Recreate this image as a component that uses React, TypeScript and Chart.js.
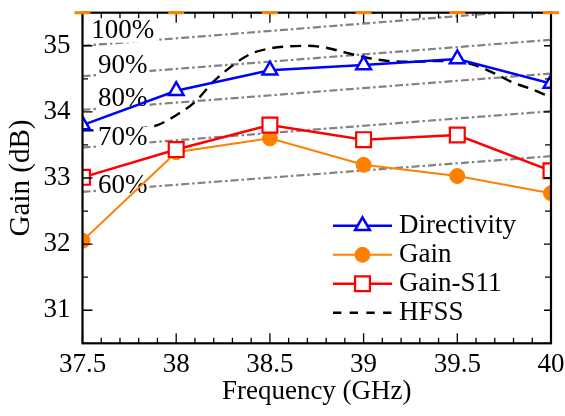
import React, { useEffect, useRef } from 'react';
import { Chart, registerables } from 'chart.js';

Chart.register(...registerables);

// ---- data ----
const freqs = [37.5, 38, 38.5, 39, 39.5, 40];
const directivity = [33.8, 34.32, 34.63, 34.71, 34.8, 34.43];
const gain = [32.05, 33.39, 33.6, 33.2, 33.03, 32.77];
const gainS11 = [33.01, 33.43, 33.8, 33.58, 33.65, 33.11];

const hfssFreqs = [37.5, 37.6, 37.7, 37.8, 37.9, 38.0, 38.1, 38.2, 38.3, 38.4, 38.5, 38.6, 38.7,
  38.8, 38.9, 39.0, 39.1, 39.2, 39.3, 39.4, 39.5, 39.6, 39.7, 39.8, 39.9, 40.0];
const hfss = [33.72, 33.72, 33.73, 33.75, 33.8, 33.95, 34.15, 34.46, 34.7, 34.88, 34.96, 34.99, 35.0,
  34.97, 34.9, 34.83, 34.78, 34.76, 34.76, 34.77, 34.77, 34.7, 34.58, 34.44, 34.34, 34.22];

// constant-efficiency reference lines (dB at 37.5 GHz and at 40 GHz)
const effLabels = ['100%', '90%', '80%', '70%', '60%'];
const effFreqs = [37.5, 40];
const effStart = [35.0, 34.54, 34.03, 33.46, 32.79];
const effEnd = [35.56, 35.09, 34.58, 34.01, 33.33];
const effLabelFreq = 37.715;
const effLabelGain = [35.22, 34.7, 34.19, 33.6, 32.88];

const xTicks = [37.5, 38, 38.5, 39, 39.5, 40];
const xTickLabels = ['37.5', '38', '38.5', '39', '39.5', '40'];
const xMinorTicks = [37.6, 37.7, 37.8, 37.9, 38.1, 38.2, 38.3, 38.4, 38.6, 38.7, 38.8, 38.9,
  39.1, 39.2, 39.3, 39.4, 39.6, 39.7, 39.8, 39.9];
const yTicks = [31, 32, 33, 34, 35];
const yTickLabels = ['31', '32', '33', '34', '35'];
const yMinorTicks = [30.5, 31.5, 32.5, 33.5, 34.5];

const seriesNames = ['Directivity', 'Gain', 'Gain-S11', 'HFSS'];

const BLUE = '#0000ff';
const ORANGE = '#ff8000';
const RED = '#ff0000';
const GRAY = '#828282';
const FONT = '"Liberation Serif", "Times New Roman", serif';
const FS = 27;

function drawMarker(ctx: CanvasRenderingContext2D, style: string, x: number, y: number, r: number,
  fill: string, stroke: string, lw: number) {
  ctx.save();
  ctx.beginPath();
  if (style === 'triangle') {
    for (let k = 0; k < 3; k++) {
      const a = (k * 2 * Math.PI) / 3;
      const px = x + Math.sin(a) * r;
      const py = y - Math.cos(a) * r;
      if (k === 0) ctx.moveTo(px, py); else ctx.lineTo(px, py);
    }
    ctx.closePath();
  } else if (style === 'rect') {
    const s = Math.SQRT1_2 * r;
    ctx.rect(x - s, y - s, 2 * s, 2 * s);
  } else {
    ctx.arc(x, y, r, 0, Math.PI * 2);
  }
  ctx.fillStyle = fill;
  ctx.fill();
  ctx.lineWidth = lw;
  ctx.strokeStyle = stroke;
  ctx.stroke();
  ctx.restore();
}

const decorPlugin = {
  id: 'decor',
  afterDatasetDraw(chart: any, args: any) {
    if (args.index !== 3) return;
    const { ctx, scales } = chart;
    ctx.save();
    ctx.font = `${FS}px ${FONT}`;
    ctx.textAlign = 'center';
    ctx.textBaseline = 'middle';
    effLabels.forEach((t, i) => {
      const cx = scales.x.getPixelForValue(effLabelFreq);
      const cy = scales.y.getPixelForValue(effLabelGain[i]);
      const w = ctx.measureText(t).width;
      ctx.fillStyle = '#ffffff';
      ctx.fillRect(cx - w / 2 - 2, cy - 11.5, w + 4, 23);
      ctx.fillStyle = '#000000';
      ctx.fillText(t, cx, cy);
    });
    ctx.restore();
  },
  afterDraw(chart: any) {
    const { ctx, chartArea: a, scales } = chart;
    const xs = scales.x;
    const ys = scales.y;
    ctx.save();
    ctx.strokeStyle = '#000';
    ctx.lineWidth = 1.3;
    ctx.beginPath();
    const xt = (v: number, len: number) => {
      const p = xs.getPixelForValue(v);
      ctx.moveTo(p, a.bottom); ctx.lineTo(p, a.bottom - len);
      ctx.moveTo(p, a.top); ctx.lineTo(p, a.top + len);
    };
    xTicks.forEach((v) => xt(v, 10));
    xMinorTicks.forEach((v) => xt(v, 5.5));
    const yt = (v: number, len: number, lenR: number) => {
      const p = ys.getPixelForValue(v);
      ctx.moveTo(a.left, p); ctx.lineTo(a.left + len, p);
      ctx.moveTo(a.right, p); ctx.lineTo(a.right - lenR, p);
    };
    yTicks.forEach((v) => yt(v, 10, 7));
    yMinorTicks.forEach((v) => yt(v, 5.5, 6));
    ctx.stroke();

    ctx.lineWidth = 2.2;
    ctx.strokeRect(a.left, a.top, a.right - a.left, a.bottom - a.top);

    // orange marks on the top frame
    ctx.fillStyle = ORANGE;
    xTicks.forEach((v) => {
      const p = xs.getPixelForValue(v);
      ctx.fillRect(p - 8, a.top - 1.5, 16, 3);
    });

    // legend
    const ds = chart.data.datasets;
    const x0 = a.right - 218;
    const x1 = a.right - 159;
    const xm = (x0 + x1) / 2;
    const tx = a.right - 152;
    ctx.font = `${FS}px ${FONT}`;
    ctx.textAlign = 'left';
    ctx.textBaseline = 'middle';
    const legendIdx = [0, 2, 1, 3];
    legendIdx.forEach((di, row) => {
      const d = ds[di];
      const yy = a.bottom - 30.5 - (3 - row) * 29;
      ctx.save();
      ctx.beginPath();
      ctx.strokeStyle = d.borderColor;
      ctx.lineWidth = d.borderWidth;
      ctx.setLineDash(di === 3 ? [8.3, 8.4] : []);
      ctx.moveTo(x0, yy);
      ctx.lineTo(x1, yy);
      ctx.stroke();
      ctx.restore();
      if (d.pointRadius > 0) {
        drawMarker(ctx, d.pointStyle, xm, yy, d.pointRadius, d.pointBackgroundColor,
          d.pointBorderColor, d.pointBorderWidth);
      }
      ctx.fillStyle = '#000';
      ctx.fillText(d.label, tx, yy);
    });
    ctx.restore();
  },
};

export default function App() {
  const ref = useRef<HTMLCanvasElement>(null);
  useEffect(() => {
    document.body.style.margin = '0';
    if (!ref.current) return;
    const pts = (xsArr: number[], ysArr: number[]) => xsArr.map((x, i) => ({ x, y: ysArr[i] }));
    const effSets = effLabels.map((l, i) => ({
      label: l,
      data: pts(effFreqs, [effStart[i], effEnd[i]]),
      borderColor: GRAY,
      borderWidth: 2.2,
      borderDash: [8, 3, 2.5, 3],
      pointRadius: 0,
      fill: false,
    }));
    const chart = new Chart(ref.current, {
      type: 'line',
      data: {
        datasets: [
          {
            label: seriesNames[0], data: pts(freqs, directivity), borderColor: BLUE, borderWidth: 2.5,
            pointStyle: 'triangle', pointRadius: 8.5, pointBackgroundColor: '#fff',
            pointBorderColor: BLUE, pointBorderWidth: 2.5, tension: 0,
          },
          {
            label: seriesNames[2], data: pts(freqs, gainS11), borderColor: RED, borderWidth: 2.5,
            pointStyle: 'rect', pointRadius: 10.5, pointBackgroundColor: '#fff',
            pointBorderColor: RED, pointBorderWidth: 2.2, tension: 0,
          },
          {
            label: seriesNames[1], data: pts(freqs, gain), borderColor: ORANGE, borderWidth: 2,
            pointStyle: 'circle', pointRadius: 7.5, pointBackgroundColor: ORANGE,
            pointBorderColor: ORANGE, pointBorderWidth: 1, tension: 0,
          },
          {
            label: seriesNames[3], data: pts(hfssFreqs, hfss), borderColor: '#000', borderWidth: 2.4,
            borderDash: [11, 7], pointRadius: 0, cubicInterpolationMode: 'monotone',
          },
          ...effSets,
        ] as any,
      },
      options: {
        animation: false,
        responsive: false,
        events: [],
        layout: { padding: { top: 9.3, right: 14, left: 0, bottom: 0 } },
        plugins: { legend: { display: false }, tooltip: { enabled: false }, title: { display: false } },
        scales: {
          x: {
            type: 'linear', min: 37.5, max: 40,
            grid: { display: false, drawTicks: false },
            border: { display: false },
            afterBuildTicks: (s: any) => { s.ticks = xTicks.map((v) => ({ value: v })); },
            afterFit: (s: any) => { s.height = 72.7; s.paddingLeft = 0; s.paddingRight = 0; },
            ticks: {
              padding: 5.5, color: '#000', font: { family: FONT, size: FS }, maxRotation: 0, autoSkip: false,
              callback: (v: any) => { const i = xTicks.indexOf(Number(v)); return i >= 0 ? xTickLabels[i] : ''; },
            },
            title: {
              display: true, text: 'Frequency (GHz)', color: '#000',
              font: { family: FONT, size: FS }, padding: { top: 0, bottom: 8 },
            },
          },
          y: {
            type: 'linear', min: 30.5, max: 35.5,
            grid: { display: false, drawTicks: false },
            border: { display: false },
            afterBuildTicks: (s: any) => { s.ticks = yTicks.map((v) => ({ value: v })); },
            afterFit: (s: any) => { s.width = 82.5; s.paddingTop = 0; s.paddingBottom = 0; },
            ticks: {
              padding: 12, color: '#000', font: { family: FONT, size: FS }, autoSkip: false,
              callback: (v: any) => { const i = yTicks.indexOf(Number(v)); return i >= 0 ? yTickLabels[i] : ''; },
            },
            title: {
              display: true, text: 'Gain (dB)', color: '#000',
              font: { family: FONT, size: 29 }, padding: { top: 4, bottom: 0 },
            },
          },
        },
      } as any,
      plugins: [decorPlugin],
    });
    return () => chart.destroy();
  }, []);
  return (
    <div style={{ position: 'fixed', left: 0, top: 0, width: 565, height: 416, background: '#fff' }}>
      <canvas ref={ref} width={565} height={416} style={{ display: 'block' }} />
    </div>
  );
}
